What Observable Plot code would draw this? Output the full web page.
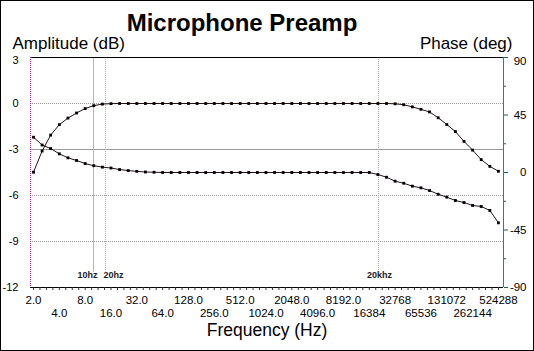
<!DOCTYPE html>
<html><head><meta charset="utf-8">
<script src="https://cdn.jsdelivr.net/npm/d3@7"></script>
<script src="https://cdn.jsdelivr.net/npm/@observablehq/plot@0.6"></script>
<style>
html,body{margin:0;padding:0;background:#fff;}
#wrap{position:relative;width:534px;height:351px;overflow:hidden;}
#border{position:absolute;left:0;top:0;width:534px;height:351px;box-sizing:border-box;border:1px solid #000;pointer-events:none;}
svg{display:block;}
</style></head><body><div id="wrap"><div id="border"></div></div>
<script>
// Frequencies (Hz), 1/3-octave steps
const freqs = [2, 2.52, 3.17, 4, 5.04, 6.35, 8, 10.08, 12.7, 16, 20.16, 25.4, 32, 40.3, 50.8, 64, 80.6, 101.6, 128, 161.3, 203.2, 256, 322.5, 406.4, 512, 645.1, 812.7, 1024, 1290, 1625, 2048, 2580, 3251, 4096, 5161, 6502, 8192, 10321, 13004, 16384, 20643, 26008, 32768, 41285, 52016, 65536, 82570, 104032, 131072, 165140, 208064, 262144, 330281, 416128, 524288];
// Amplitude (dB)
const amplitudeDb = [-4.48, -3.1, -2.06, -1.38, -0.95, -0.62, -0.33, -0.14, -0.04, -0.01,
  0, 0, 0, 0, 0, 0, 0, 0, 0, 0, 0, 0, 0, 0, 0, 0, 0, 0, 0, 0, 0, 0, 0, 0, 0, 0, 0, 0, 0, 0, 0,
  0, -0.02, -0.08, -0.22, -0.38, -0.55, -0.93, -1.37, -1.83, -2.47, -3.04, -3.66, -4.1, -4.42];
// Phase (deg)
const phaseDeg = [27.6, 21.5, 18.7, 14.6, 11.5, 9.4, 7.0, 5.3, 4.2, 3.5, 2.3, 1.5, 0.9, 0.4, 0.2,
  0, 0, 0, 0, 0, 0, 0, 0, 0, 0, 0, 0, 0, 0, 0, 0, 0, 0, 0, 0, 0, 0, 0, 0, 0,
  -1.6, -3.7, -6.8, -8.4, -10.7, -12.0, -14.1, -17.0, -19.3, -21.9, -23.5, -25.8, -26.6, -29.7, -39.4];

const ampTicks = [3, 0, -3, -6, -9, -12];
const phaseTicks = [90, 45, 0, -45, -90];
const phaseMinorTicks = [67.5, 22.5, -22.5, -67.5];
const xTicksRow1 = [2, 8, 32, 128, 512, 2048, 8192, 32768, 131072, 524288];
const xTicksRow2 = [4, 16, 64, 256, 1024, 4096, 16384, 65536, 262144];
const markerFreqs = [10, 13.8, 21000];
const markerLabels = ["10hz", "20hz", "20khz"];
const dottedGrid = [0, -6, -9];
const solidGrid = [-3];

const FONT = "'Liberation Sans', Arial, sans-serif";
const xDomain = [1.845, 600600];
const yDomain = [-12, 3];
const toDb = p => p / 12 - 4.5;          // phase (deg) -> amplitude axis units
const fmtF = v => v >= 10000 ? String(v) : v.toFixed(1);
const minorX = d3.range(4, 77).map(k => 2 ** (k / 4));

const amp = freqs.map((f, i) => ({f, v: amplitudeDb[i]}));
const ph = freqs.map((f, i) => ({f, v: toDb(phaseDeg[i])}));
const markers = markerFreqs.map((f, i) => ({f, label: markerLabels[i]}));

const chart = Plot.plot({
  width: 534, height: 351,
  marginLeft: 30, marginRight: 31, marginTop: 57, marginBottom: 64,
  style: {fontFamily: FONT, fontSize: "11px", background: "#fff", color: "#000"},
  x: {type: "log", base: 2, domain: xDomain},
  y: {domain: yDomain},
  marks: [
    // grid
    Plot.ruleY(dottedGrid, {stroke: "#999", strokeDasharray: "1,1"}),
    Plot.ruleY(solidGrid, {stroke: "#999"}),
    // marker lines
    Plot.ruleX([markers[0]], {x: "f", y1: yDomain[1], y2: -11, stroke: "#b4b4b4"}),
    Plot.ruleX(markers.slice(1), {x: "f", y1: yDomain[1], y2: -11, stroke: "#aaa", strokeDasharray: "1,1"}),
    Plot.text([markers[0]], {x: "f", frameAnchor: "bottom", text: "label", dx: -6, dy: -10, fontSize: 9, fontWeight: "bold", fill: "#222"}),
    Plot.text([markers[1]], {x: "f", frameAnchor: "bottom", text: "label", dx: 8, dy: -10, fontSize: 9, fontWeight: "bold", fill: "#222"}),
    Plot.text([markers[2]], {x: "f", frameAnchor: "bottom", text: "label", dx: 1, dy: -10, fontSize: 9, fontWeight: "bold", fill: "#222"}),
    // frame lines
    Plot.ruleY([yDomain[1]], {stroke: "#000"}),
    Plot.ruleY([yDomain[0]], {stroke: "#000"}),
    Plot.ruleX([xDomain[0]], {stroke: "#a020a0", strokeDasharray: "1,1"}),
    Plot.ruleX([xDomain[1]], {stroke: "#108c8c"}),
    // x axis
    Plot.axisX(minorX, {anchor: "bottom", tickSize: 3, tickFormat: () => "", label: null, stroke: "#333"}),
    Plot.axisX(xTicksRow1, {anchor: "bottom", tickSize: 0, tickPadding: 8, tickFormat: fmtF, label: null, fontSize: 11.5}),
    Plot.axisX(xTicksRow2, {anchor: "bottom", tickSize: 0, tickPadding: 21, tickFormat: fmtF, label: null, fontSize: 11.5}),
    // left axis labels
    Plot.text(ampTicks.slice(1), {x: xDomain[0], y: d => d, text: d => String(d), dx: -12, textAnchor: "end", fontSize: 11}),
    Plot.text(ampTicks.slice(0, 1), {x: xDomain[0], y: d => d, text: d => String(d), dx: -12, dy: 3, textAnchor: "end", fontSize: 11}),
    // right axis ticks + labels
    Plot.axisY(phaseTicks.map(toDb), {anchor: "right", tickSize: 4, tickFormat: () => "", label: null, stroke: "#106060"}),
    Plot.axisY(phaseMinorTicks.map(toDb), {anchor: "right", tickSize: 2, tickFormat: () => "", label: null, stroke: "#106060"}),
    Plot.text(phaseTicks.slice(1), {x: xDomain[1], y: toDb, text: d => String(d), dx: 23, textAnchor: "end", fontSize: 11.5}),
    Plot.text(phaseTicks.slice(0, 1), {x: xDomain[1], y: toDb, text: d => String(d), dx: 23, dy: 4, textAnchor: "end", fontSize: 11.5}),
    // data
    Plot.line(amp, {x: "f", y: "v", stroke: "#2a1010", strokeWidth: 1}),
    Plot.line(ph, {x: "f", y: "v", stroke: "#2a1020", strokeWidth: 1}),
    Plot.dot(amp, {x: "f", y: "v", symbol: "square", r: 1.6, fill: "#000"}),
    Plot.dot(ph, {x: "f", y: "v", symbol: "square", r: 1.6, fill: "#000"}),
    // titles
    Plot.text(["Microphone Preamp"], {frameAnchor: "top", dx: -25, dy: -44, fontSize: 24, fontWeight: "bold"}),
    Plot.text(["Amplitude (dB)"], {frameAnchor: "top-left", textAnchor: "start", dx: -18, dy: -21, fontSize: 17}),
    Plot.text(["Phase (deg)"], {frameAnchor: "top-right", textAnchor: "end", dx: 9, dy: -21, fontSize: 17}),
    Plot.text(["Frequency (Hz)"], {frameAnchor: "bottom", dy: 48, fontSize: 17.5})
  ]
});
document.getElementById("wrap").insertBefore(chart, document.getElementById("border"));
</script>
</body></html>
